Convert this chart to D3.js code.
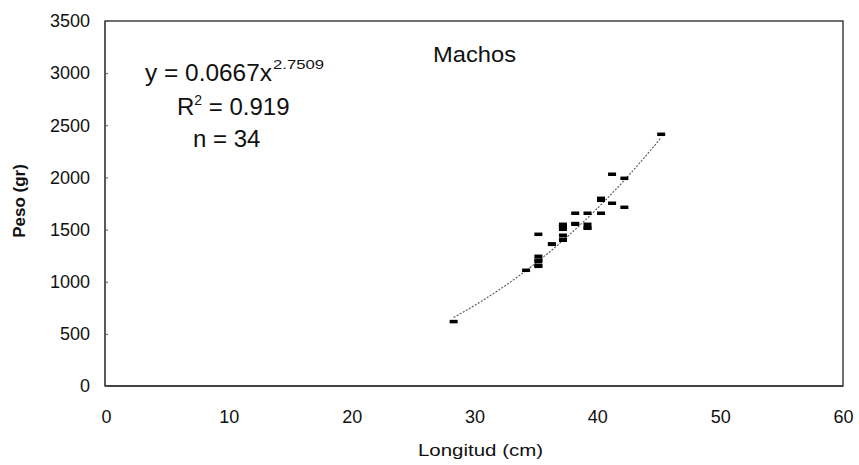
<!DOCTYPE html>
<html><head><meta charset="utf-8">
<script src="https://cdn.jsdelivr.net/npm/d3@7"></script>
<style>
html,body{margin:0;padding:0;background:#fff;}
svg{display:block;font-family:"Liberation Sans",Arial,sans-serif;}
</style></head>
<body>
<svg id="c" width="859" height="465"></svg>
<script>
// Data: longitud (cm) and peso (gr), machos, n = 34
const longitud = [28.3,34.2,35.2,35.2,35.2,35.2,36.3,37.2,37.2,37.2,37.2,37.2,38.2,38.2,39.2,39.2,39.2,40.3,40.3,40.3,41.2,41.2,42.2,42.2,45.2,37.2,37.2,35.2,35.2,38.2,39.2,40.3,37.2,36.3];
const peso     = [620,1112,1150,1198,1246,1457,1361,1553,1525,1505,1448,1400,1553,1659,1553,1515,1659,1659,1783,1802,1755,2033,1716,1994,2416,1540,1530,1160,1210,1560,1520,1790,1410,1365];
const xTicks = [0,10,20,30,40,50,60];
const yTicks = [0,500,1000,1500,2000,2500,3000,3500];
// power trendline y = a * x^b
const trendA = 0.0667, trendB = 2.7509;
const eqText = "y = 0.0667x", eqExp = "2.7509", r2Text = "0.919", nText = "n = 34";
const chartTitle = "Machos", xTitle = "Longitud (cm)", yTitle = "Peso (gr)";

const svg = d3.select("#c");
const L = 105, R = 843, T = 21, B = 386;
const x = d3.scaleLinear().domain([0,60]).range([L+1,R]);
const y = d3.scaleLinear().domain([0,3500]).range([B,T]);

// plot frame
svg.append("rect").attr("x",L).attr("y",T).attr("width",R-L).attr("height",B-T)
  .attr("fill","none").attr("stroke","#222").attr("stroke-width",1.3);
svg.append("line").attr("x1",L).attr("x2",L).attr("y1",T).attr("y2",B).attr("stroke","#555").attr("stroke-width",1.6);
svg.append("line").attr("x1",L).attr("x2",R).attr("y1",B).attr("y2",B).attr("stroke","#333").attr("stroke-width",1.6);

// y axis
const yAx = svg.append("g").attr("transform",`translate(${L},0)`)
  .call(d3.axisLeft(y).tickValues(yTicks).tickSize(-3).tickPadding(15).tickFormat(d3.format("d")));
yAx.select(".domain").remove();
yAx.selectAll(".tick line").attr("stroke","#555");
yAx.selectAll("text").attr("font-size",18).attr("fill","#111").attr("font-family","Liberation Sans, Arial, sans-serif");

// x axis
const xAx = svg.append("g").attr("transform",`translate(0,${B})`)
  .call(d3.axisBottom(x).tickValues(xTicks).tickSize(0).tickPadding(24).tickFormat(d3.format("d")));
xAx.select(".domain").remove();
xAx.selectAll("text").attr("font-size",18).attr("fill","#111").attr("font-family","Liberation Sans, Arial, sans-serif");

// trendline
const xs = d3.extent(longitud);
const tline = d3.range(0,41).map(i => { const xv = xs[0] + (xs[1]-xs[0])*i/40; return [xv, trendA*Math.pow(xv,trendB)]; });
svg.append("path").datum(tline)
  .attr("d", d3.line().x(d=>x(d[0])).y(d=>y(d[1])))
  .attr("fill","none").attr("stroke","#555").attr("stroke-width",1.1).attr("stroke-dasharray","2,1.5");

// markers
const pts = longitud.map((v,i)=>({x:v,y:peso[i]}));
svg.append("g").selectAll("rect").data(pts).join("rect")
  .attr("x",d=>x(d.x)-4).attr("y",d=>y(d.y)-1.5).attr("width",8).attr("height",3.5).attr("fill","#000");

// annotation
const eq = svg.append("text").attr("x",145).attr("y",81).attr("font-size",24).attr("fill","#111");
eq.append("tspan").text(eqText).attr("textLength",127).attr("lengthAdjust","spacingAndGlyphs");
svg.append("text").attr("x",273).attr("y",69).attr("font-size",13).attr("fill","#111")
  .attr("textLength",51).attr("lengthAdjust","spacingAndGlyphs").text(eqExp);
const r2 = svg.append("text").attr("x",177).attr("y",115).attr("font-size",24).attr("fill","#111");
r2.append("tspan").text("R");
r2.append("tspan").attr("font-size",14).attr("dy",-10).text("2");
r2.append("tspan").attr("dy",10).text(" = " + r2Text);
svg.append("text").attr("x",193).attr("y",147).attr("font-size",24).attr("fill","#111").text(nText);

// titles
svg.append("text").attr("x",433).attr("y",62).attr("font-size",22).attr("fill","#111")
  .attr("textLength",83).attr("lengthAdjust","spacingAndGlyphs").text(chartTitle);
svg.append("text").attr("x",418).attr("y",456).attr("font-size",17).attr("fill","#111")
  .attr("textLength",125).attr("lengthAdjust","spacingAndGlyphs").text(xTitle);
svg.append("text").attr("transform","translate(25,201) rotate(-90)").attr("text-anchor","middle")
  .attr("font-size",17).attr("font-weight","bold").attr("fill","#111").text(yTitle);
</script>
</body></html>
